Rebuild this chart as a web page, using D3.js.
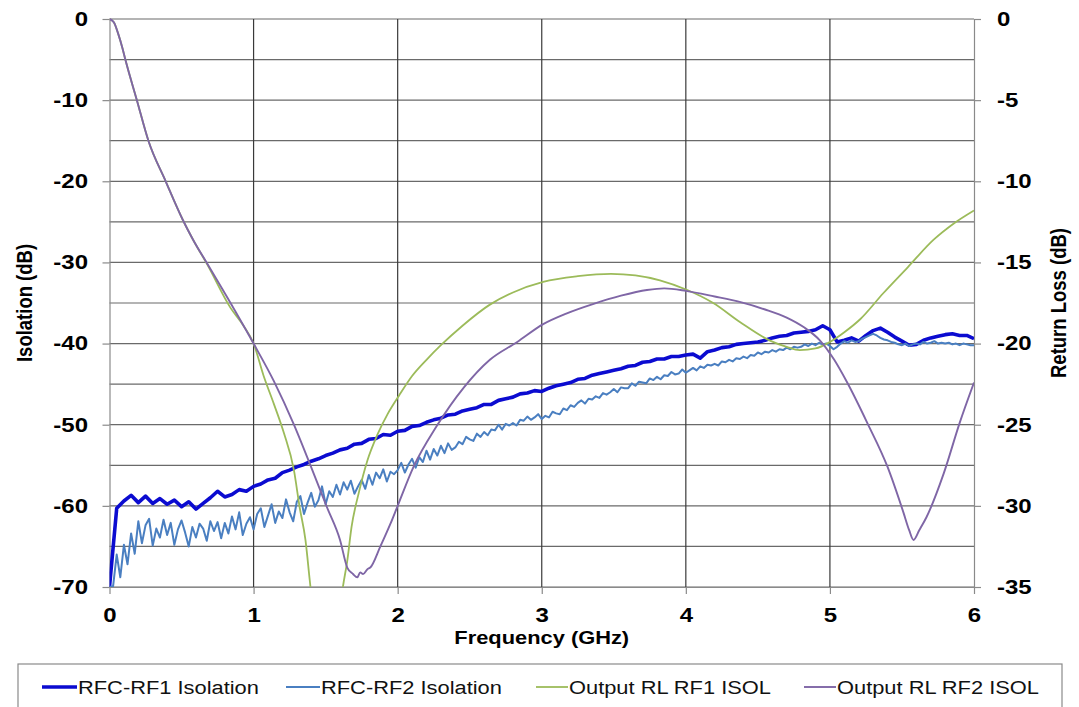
<!DOCTYPE html>
<html><head><meta charset="utf-8">
<script src="https://cdn.jsdelivr.net/npm/d3@7"></script>
<style>
body{margin:0;background:#fff;}
svg text{font-family:"Liberation Sans",Arial,sans-serif;}
</style></head><body>
<svg id="chart" width="1079" height="707"></svg>
<script>
// ---------------- data ----------------
const xTicks = [0, 1, 2, 3, 4, 5, 6];
const leftTicks = [0, -10, -20, -30, -40, -50, -60, -70];
const rightTicks = [0, -5, -10, -15, -20, -25, -30, -35];
const gridValues = [0, -5, -10, -15, -20, -25, -30, -35, -40, -45, -50, -55, -60, -65, -70];

const seriesNames = ["RFC-RF1 Isolation", "RFC-RF2 Isolation", "Output RL RF1 ISOL", "Output RL RF2 ISOL"];
const seriesColors = ["#0b0bd0", "#4a7fc1", "#9cbb5a", "#7f66a6"];

// RFC-RF1 isolation (dB), frequency grid 0 .. 6 GHz, step 0.05 GHz
const rf1Step = 0.05;
const rf1Iso = [
  -70, -60.3, -59.4, -58.7, -59.6, -58.8, -59.7, -59.1, -59.8, -59.3,
  -60.1, -59.5, -60.4, -59.7, -59.0, -58.2, -58.9, -58.6, -58.0, -58.2,
  -57.6, -57.3, -56.8, -56.6, -55.9, -55.6, -55.2, -54.9, -54.5, -54.2,
  -53.8, -53.5, -53.1, -52.9, -52.4, -52.3, -51.8, -51.7, -51.2, -51.3,
  -50.8, -50.7, -50.2, -50.1, -49.7, -49.4, -49.2, -48.8, -48.7, -48.3,
  -48.1, -47.9, -47.5, -47.5, -47.0, -46.8, -46.6, -46.2, -46.1, -45.8,
  -45.9, -45.5, -45.2, -45.0, -44.8, -44.4, -44.3, -43.9, -43.7, -43.5,
  -43.3, -43.1, -42.8, -42.7, -42.3, -42.2, -41.9, -41.9, -41.6, -41.6,
  -41.4, -41.3, -41.8, -41.0, -40.8, -40.5, -40.4, -40.1, -40.0, -39.9,
  -39.8, -39.6, -39.3, -39.1, -39.0, -38.7, -38.6, -38.5, -38.3, -37.8,
  -38.3, -39.8, -39.6, -39.3, -39.7, -39.0, -38.4, -38.1, -38.6, -39.2,
  -39.7, -40.2, -40.1, -39.6, -39.3, -39.1, -38.9, -38.8, -39.0, -39.0,
  -39.4
];

// RFC-RF2 isolation (dB), frequency grid 0 .. 6 GHz, step 0.025 GHz
const rf2Step = 0.025;
const rf2Iso = [
  -70, -69.9, -66.0, -68.8, -64.8, -67.2, -63.4, -65.9,
  -61.9, -64.6, -62.4, -61.6, -64.9, -62.8, -63.9, -61.7,
  -63.6, -62.1, -64.8, -62.9, -61.8, -63.3, -65.0, -62.6,
  -63.9, -62.2, -62.8, -64.3, -61.9, -63.1, -62.0, -64.0,
  -62.1, -63.4, -61.3, -62.9, -60.8, -63.6, -62.2, -61.4,
  -62.9, -61.0, -60.3, -62.6, -61.2, -59.8, -62.1, -60.7,
  -61.5, -59.2, -60.8, -61.9, -59.5, -58.8, -61.0, -59.6,
  -58.4, -60.1, -59.3, -57.6, -59.8, -58.2, -58.9, -57.4,
  -58.6, -57.1, -58.0, -56.9, -58.5, -57.6, -56.8, -57.9,
  -56.2, -57.4, -55.9, -56.6, -55.5, -57.0, -55.8, -56.1,
  -55.6, -54.7, -55.9, -54.9, -54.2, -55.3, -54.0, -54.6,
  -53.2, -54.3, -53.0, -53.8, -52.6, -53.5, -52.3, -53.1,
  -52.8, -52.1, -52.4, -51.5, -51.8, -52.0, -51.1, -51.5,
  -50.9, -51.3, -50.6, -50.7, -50.0, -50.6, -49.9, -50.1,
  -49.8, -50.1, -49.4, -49.5, -49.0, -49.4, -49.1, -48.7,
  -49.3, -48.9, -49.1, -48.4, -48.6, -48.7, -48.0, -48.2,
  -47.6, -47.8, -47.3, -47.0, -47.4, -46.8, -46.9, -46.5,
  -46.7, -46.1, -46.3, -46.0, -45.6, -46.0, -45.4, -45.5,
  -45.5, -44.9, -45.2, -44.7, -44.8, -44.9, -44.3, -44.5,
  -44.1, -44.4, -43.9, -44.0, -43.5, -43.8, -43.7, -43.2,
  -43.6, -43.3, -43.0, -43.3, -42.8, -43.0, -42.6, -42.7,
  -42.5, -42.7, -42.2, -42.3, -42.0, -42.2, -41.8, -41.9,
  -41.6, -41.8, -41.4, -41.5, -41.1, -41.3, -41.0, -41.1,
  -40.8, -41.0, -40.7, -40.8, -40.5, -40.7, -40.4, -40.5,
  -40.4, -40.1, -40.3, -40.0, -40.2, -39.9, -40.1, -40.0,
  -40.3, -40.7, -40.4, -40.0, -39.7, -39.9, -39.6, -39.8,
  -39.7, -39.4, -39.2, -39.0, -38.8, -39.0, -39.3, -39.5,
  -39.6, -39.8, -39.9, -40.1, -40.2, -40.0, -40.3, -40.1,
  -40.0, -40.1, -39.8, -40.0, -39.9, -39.7, -40.0, -39.9,
  -40.0, -39.9, -40.1, -40.0, -40.2, -40.0, -40.1, -40.2,
  -40.2
];

// Output return loss (dB, right axis): [frequency GHz, value]
const rlRF1 = [
  [0,0],[0.03,-0.2],[0.06,-0.9],[0.09,-1.8],[0.11,-2.5],[0.19,-5],[0.27,-7.5],[0.39,-10],
  [0.51,-12.4],[0.58,-13.6],[0.68,-15.15],[0.84,-17.8],[0.93,-18.9],[1.0,-20],[1.07,-22],
  [1.14,-23.7],[1.21,-25.5],[1.28,-27.8],[1.32,-30.1],[1.36,-32.1],[1.39,-34.6],[1.42,-37],
  [1.5,-40],[1.58,-38],[1.62,-35],[1.65,-33.4],[1.68,-31.3],[1.73,-29.2],[1.79,-27.2],
  [1.86,-25.6],[1.93,-24.35],[2.01,-23.2],[2.1,-22.0],[2.2,-21.0],[2.3,-20.1],[2.45,-18.9],
  [2.64,-17.6],[2.8,-16.85],[3.01,-16.2],[3.25,-15.85],[3.48,-15.7],[3.65,-15.8],[3.82,-16.1],
  [4.01,-16.7],[4.19,-17.5],[4.38,-18.7],[4.58,-19.8],[4.7,-20.2],[4.79,-20.4],[4.9,-20.3],
  [5.0,-19.9],[5.1,-19.3],[5.21,-18.5],[5.37,-16.9],[5.54,-15.3],[5.72,-13.6],[5.86,-12.6],[6.0,-11.8]
];
const rlRF2 = [
  [0,0],[0.03,-0.2],[0.06,-0.9],[0.09,-1.8],[0.11,-2.5],[0.19,-5],[0.27,-7.5],[0.39,-10],
  [0.51,-12.4],[0.58,-13.6],[0.68,-15.1],[0.84,-17.5],[1.0,-20],[1.14,-22.3],[1.28,-25],
  [1.39,-27.4],[1.51,-30.1],[1.6,-32.1],[1.65,-33.8],[1.69,-34.2],[1.72,-34.4],[1.74,-34.1],
  [1.76,-34.2],[1.79,-33.9],[1.81,-33.8],[1.88,-32.5],[1.95,-31.1],[2.0,-30.0],[2.11,-27.6],
  [2.27,-25.1],[2.46,-22.7],[2.64,-21.0],[2.83,-19.9],[3.01,-18.8],[3.17,-18.15],[3.36,-17.55],
  [3.55,-17.05],[3.73,-16.7],[3.85,-16.6],[4.0,-16.75],[4.2,-17.1],[4.38,-17.45],[4.55,-17.9],
  [4.7,-18.4],[4.82,-19.0],[4.93,-19.8],[5.03,-21.0],[5.12,-22.4],[5.26,-24.9],[5.4,-27.6],
  [5.51,-30.4],[5.55,-31.5],[5.58,-32.1],[5.62,-31.5],[5.67,-30.7],[5.79,-28],[5.9,-24.9],[6.0,-22.4]
];

// ---------------- drawing ----------------
const svg = d3.select("#chart");
const FONT = '"Liberation Sans", Arial, sans-serif';
svg.append("rect").attr("width", 1079).attr("height", 707).attr("fill", "#fff");

const x = d3.scaleLinear().domain([0, 6]).range([109.5, 974]);
const yL = d3.scaleLinear().domain([-70, 0]).range([587, 19]);
const yR = d3.scaleLinear().domain([-35, 0]).range([587, 19]);

// grid
const grid = svg.append("g");
grid.selectAll("line.h").data(gridValues).join("line").attr("class", "h")
  .attr("x1", x(0)).attr("x2", x(6))
  .attr("y1", d => yL(d)).attr("y2", d => yL(d))
  .attr("stroke", "#6a6a6a").attr("stroke-width", 1.2);
grid.selectAll("line.v").data(xTicks.slice(1, -1)).join("line").attr("class", "v")
  .attr("x1", d => x(d)).attr("x2", d => x(d))
  .attr("y1", yL(0)).attr("y2", yL(-70))
  .attr("stroke", "#3a3a3a").attr("stroke-width", 1.2);

// axes
function styleAxis(g) {
  g.attr("font-family", FONT).attr("font-size", 20).attr("font-weight", "bold");
  g.select(".domain").attr("stroke", "#8a8a8a").attr("stroke-width", 1.2);
  g.selectAll(".tick line").attr("stroke", "#8a8a8a").attr("stroke-width", 1.2);
  g.selectAll(".tick text").attr("fill", "#000");
}
const gL = svg.append("g").attr("transform", `translate(${x(0)},0)`)
  .call(d3.axisLeft(yL).tickValues(leftTicks).tickSize(7).tickSizeOuter(0).tickFormat(d => String(d)));
styleAxis(gL);
gL.selectAll(".tick text").attr("x", -21.5 / 1.2).attr("transform", "scale(1.2,1)");

const gR = svg.append("g").attr("transform", `translate(${x(6)},0)`)
  .call(d3.axisRight(yR).tickValues(rightTicks).tickSize(7).tickSizeOuter(0).tickFormat(d => String(d)));
styleAxis(gR);
gR.selectAll(".tick text").attr("x", 23 / 1.2).attr("transform", "scale(1.2,1)");

const gB = svg.append("g").attr("transform", `translate(0,${yL(-70)})`)
  .call(d3.axisBottom(x).tickValues(xTicks).tickSize(7).tickSizeOuter(0).tickFormat(d => String(d)));
styleAxis(gB);
gB.selectAll(".tick text").attr("y", 21).attr("transform", "scale(1.2,1)");

// clip
svg.append("clipPath").attr("id", "plotclip").append("rect")
  .attr("x", x(0)).attr("y", yL(0) - 1).attr("width", x(6) - x(0)).attr("height", yL(-70) - yL(0) + 1);

const plot = svg.append("g").attr("clip-path", "url(#plotclip)");
const lineL = d3.line().x(d => x(d[0])).y(d => yL(d[1]));
const lineR = d3.line().x(d => x(d[0])).y(d => yR(d[1])).curve(d3.curveMonotoneX);

const rf1Pts = rf1Iso.map((v, i) => [i * rf1Step, v]);
const rf2Pts = rf2Iso.map((v, i) => [i * rf2Step, v]);

plot.append("path").datum(rf1Pts).attr("d", lineL).attr("fill", "none")
  .attr("stroke", seriesColors[0]).attr("stroke-width", 3.6).attr("stroke-linejoin", "round");
plot.append("path").datum(rf2Pts).attr("d", lineL).attr("fill", "none")
  .attr("stroke", seriesColors[1]).attr("stroke-width", 2).attr("stroke-linejoin", "round");
plot.append("path").datum(rlRF1).attr("d", lineR).attr("fill", "none")
  .attr("stroke", seriesColors[2]).attr("stroke-width", 1.8);
plot.append("path").datum(rlRF2).attr("d", lineR).attr("fill", "none")
  .attr("stroke", seriesColors[3]).attr("stroke-width", 1.9);

// axis titles
svg.append("text").text("Frequency (GHz)")
  .attr("transform", `translate(${(x(0) + x(6)) / 2},644) scale(1.15,1)`)
  .attr("text-anchor", "middle").attr("font-family", FONT).attr("font-size", 19).attr("font-weight", "bold");
svg.append("text").text("Isolation (dB)")
  .attr("transform", `translate(32,${(yL(0) + yL(-70)) / 2}) rotate(-90) scale(1,1.15)`)
  .attr("text-anchor", "middle").attr("font-family", FONT).attr("font-size", 18.5).attr("font-weight", "bold");
svg.append("text").text("Return Loss (dB)")
  .attr("transform", `translate(1066,${(yL(0) + yL(-70)) / 2}) rotate(-90) scale(1,1.15)`)
  .attr("text-anchor", "middle").attr("font-family", FONT).attr("font-size", 18.5).attr("font-weight", "bold");

// legend
svg.append("rect").attr("x", 18).attr("y", 664).attr("width", 1044).attr("height", 60)
  .attr("fill", "none").attr("stroke", "#8a8a8a").attr("stroke-width", 1.2);
const legendPos = [
  {x1: 42, x2: 77, tx: 78, w: 3.6},
  {x1: 286, x2: 320, tx: 321, w: 2},
  {x1: 536, x2: 568, tx: 569, w: 1.8},
  {x1: 804, x2: 836, tx: 837, w: 1.9}
];
const lg = svg.append("g");
seriesNames.forEach((name, i) => {
  const p = legendPos[i];
  lg.append("line").attr("x1", p.x1).attr("x2", p.x2).attr("y1", 687).attr("y2", 687)
    .attr("stroke", seriesColors[i]).attr("stroke-width", p.w);
  lg.append("text").text(name)
    .attr("transform", `translate(${p.tx},693.5) scale(1.15,1)`)
    .attr("font-family", FONT).attr("font-size", 19).attr("fill", "#111");
});
</script>
</body></html>
